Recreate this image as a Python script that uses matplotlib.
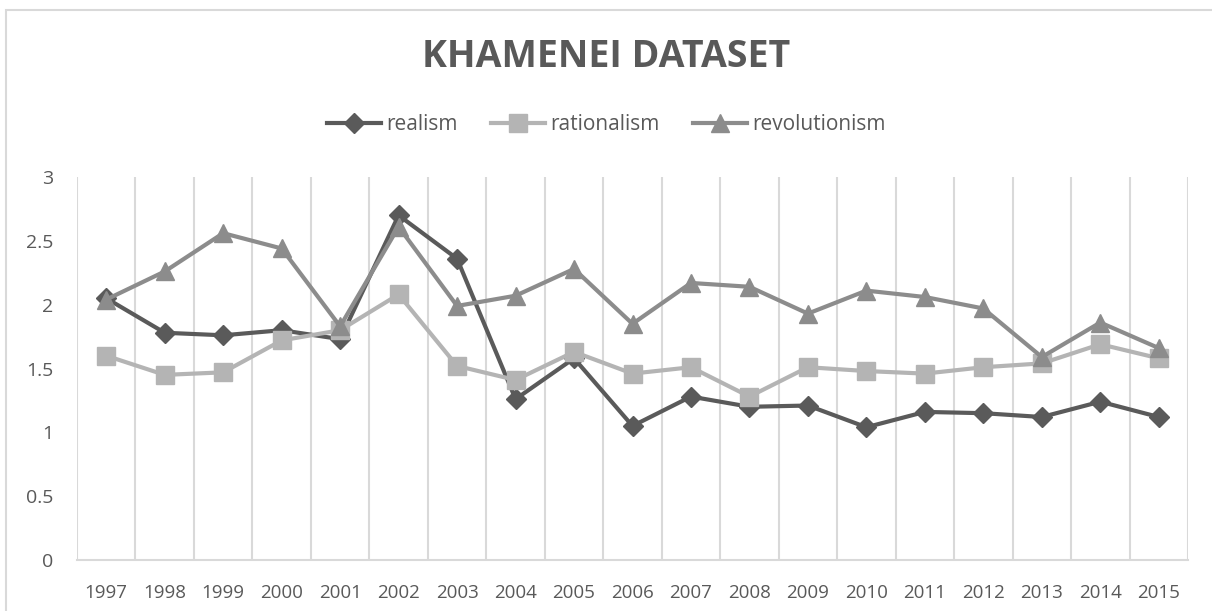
import matplotlib.pyplot as plt
import numpy as np
from matplotlib.lines import Line2D
from matplotlib.patches import Rectangle

# DATA
years = ['1997', '1998', '1999', '2000', '2001', '2002', '2003', '2004', '2005', '2006',
         '2007', '2008', '2009', '2010', '2011', '2012', '2013', '2014', '2015']
realism = [2.05, 1.78, 1.76, 1.80, 1.73, 2.70, 2.36, 1.26, 1.58, 1.05,
           1.28, 1.20, 1.21, 1.04, 1.16, 1.15, 1.12, 1.24, 1.12]
rationalism = [1.60, 1.45, 1.47, 1.72, 1.80, 2.08, 1.52, 1.41, 1.63, 1.46,
               1.51, 1.28, 1.51, 1.48, 1.46, 1.51, 1.54, 1.69, 1.58]
revolutionism = [2.04, 2.26, 2.56, 2.44, 1.83, 2.61, 1.99, 2.07, 2.28, 1.85,
                 2.17, 2.14, 1.93, 2.11, 2.06, 1.97, 1.59, 1.86, 1.66]

plt.rcParams['font.family'] = ['Open Sans', 'DejaVu Sans']
txt = '#595959'
grid = '#d9d9d9'
c_real, c_rat, c_rev = '#5a5a5a', '#b4b4b4', '#8c8c8c'

fig = plt.figure(figsize=(12.12, 6.11), dpi=100)

# chart border (Excel-like frame)
fig.patches.append(Rectangle((6 / 1212, -0.1), 1.2, 1.1 - 10 / 611, transform=fig.transFigure,
                             fill=False, edgecolor=grid, linewidth=1.5))

ax = fig.add_axes([77 / 1212, 51 / 611, (1188 - 77) / 1212, (560 - 177) / 611])
x = np.arange(len(years))

ax.plot(x, realism, color=c_real, lw=3, marker='D', ms=10, label='realism', zorder=3)
ax.plot(x, rationalism, color=c_rat, lw=3, marker='s', ms=13, label='rationalism', zorder=4)
ax.plot(x, revolutionism, color=c_rev, lw=3, marker='^', ms=13, label='revolutionism', zorder=5)

ax.set_xlim(-0.5, len(years) - 0.5)
ax.set_ylim(0, 3)
ax.set_yticks(np.arange(0, 3.01, 0.5))
ax.set_yticklabels(['0', '0.5', '1', '1.5', '2', '2.5', '3'])
ax.set_xticks(x)
ax.set_xticklabels(years)

# vertical gridlines between categories
for b in np.arange(-0.5, len(years), 1.0):
    ax.axvline(b, color=grid, lw=1.5, zorder=1)

for s in ['top', 'right', 'left']:
    ax.spines[s].set_visible(False)
ax.spines['bottom'].set_color(grid)
ax.spines['bottom'].set_linewidth(1.5)
ax.tick_params(axis='both', length=0, colors=txt)
ax.tick_params(axis='y', pad=17, labelsize=14)
ax.tick_params(axis='x', pad=17, labelsize=13.5)

fig.text(0.5, 1 - 57 / 611, 'KHAMENEI DATASET', ha='center', va='center',
         fontsize=27, fontweight='bold', color=txt)

handles = [Line2D([], [], color=c_real, lw=3, marker='D', ms=10),
           Line2D([], [], color=c_rat, lw=3, marker='s', ms=13),
           Line2D([], [], color=c_rev, lw=3, marker='^', ms=13)]
leg = fig.legend(handles, ['realism', 'rationalism', 'revolutionism'], loc='center',
                 bbox_to_anchor=(0.5, 1 - 125 / 611), ncol=3, frameon=False,
                 fontsize=15, handlelength=2.6, handletextpad=0.25, columnspacing=1.6)
for t in leg.get_texts():
    t.set_color(txt)

fig.savefig('out.png', dpi=100)
